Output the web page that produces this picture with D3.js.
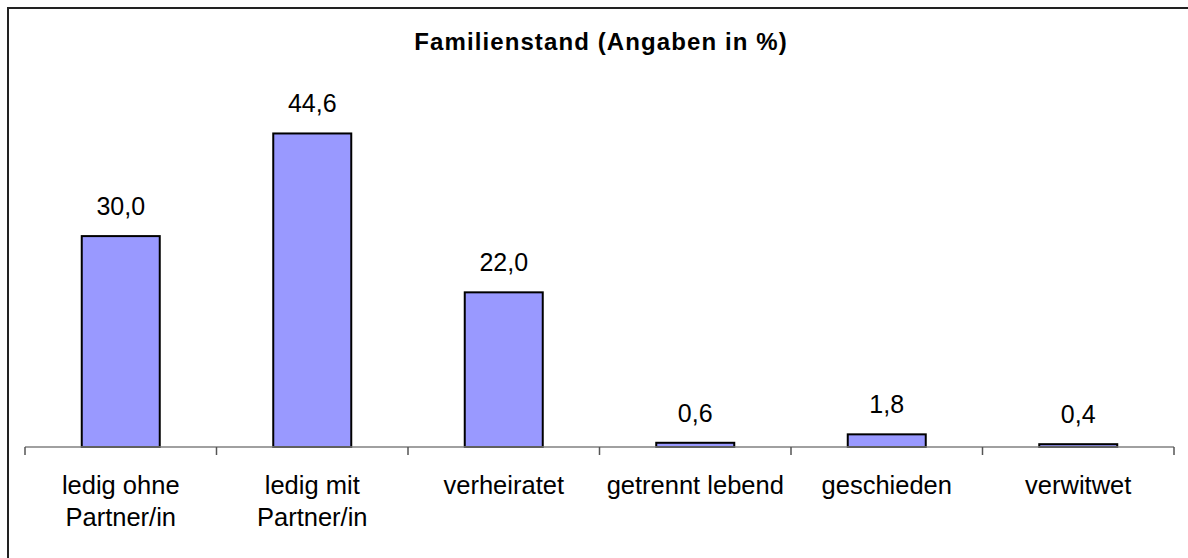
<!DOCTYPE html>
<html>
<head>
<meta charset="utf-8">
<script src="https://cdn.jsdelivr.net/npm/d3@7"></script>
<style>
	body { margin: 0; background: #fff; }
	svg { display: block; font-family: Arial, "Liberation Sans", sans-serif; }
</style>
</head>
<body>
<div id="chart"></div>
<script>
// data
var categories = [["ledig ohne", "Partner/in"], ["ledig mit", "Partner/in"], ["verheiratet"], ["getrennt lebend"], ["geschieden"], ["verwitwet"]];
var values = [30.0, 44.6, 22.0, 0.6, 1.8, 0.4];
var title = "Familienstand (Angaben in %)";

var width = 1188, height = 558;
var axisY = 447;

var svg = d3.select("#chart").append("svg")
	.attr("width", width)
	.attr("height", height);

// outer frame (cut off at right and bottom like the original)
svg.append("rect")
	.attr("x", 8).attr("y", 8)
	.attr("width", 1200).attr("height", 600)
	.style("fill", "none")
	.style("stroke", "#222")
	.style("stroke-width", 2);

// scales
var x = d3.scaleBand()
	.domain(d3.range(values.length))
	.range([25, 1174])
	.paddingInner(0)
	.paddingOuter(0);

var y = d3.scaleLinear()
	.domain([0, 50])
	.range([axisY, axisY - 351.5]);

var barW = 78;

// title
svg.append("text")
	.attr("x", 601).attr("y", 50)
	.attr("text-anchor", "middle")
	.style("font-weight", "bold")
	.style("font-size", "24px")
	.style("letter-spacing", "1.1px")
	.text(title);

// bars
svg.selectAll(".bar")
	.data(values)
	.enter().append("rect")
	.attr("class", "bar")
	.attr("x", function(d, i) { return x(i) + x.bandwidth() / 2 - barW / 2; })
	.attr("y", function(d) { return y(d); })
	.attr("width", barW)
	.attr("height", function(d) { return axisY - y(d); })
	.style("fill", "#9999ff")
	.style("stroke", "#000")
	.style("stroke-width", 2);

// value labels
svg.selectAll(".val")
	.data(values)
	.enter().append("text")
	.attr("class", "val")
	.attr("x", function(d, i) { return x(i) + x.bandwidth() / 2; })
	.attr("y", function(d) { return y(d) - 21; })
	.attr("text-anchor", "middle")
	.style("font-size", "25px")
	.text(function(d) { return d.toFixed(1).replace(".", ","); });

// x axis
var axis = svg.append("g")
	.attr("transform", "translate(0," + axisY + ")");

axis.append("line")
	.attr("x1", x.range()[0]).attr("x2", x.range()[1])
	.style("stroke", "#808080")
	.style("stroke-width", 1.5);

var ticks = d3.range(values.length + 1).map(function(i) { return x.range()[0] + i * x.bandwidth(); });
axis.selectAll(".tick")
	.data(ticks)
	.enter().append("line")
	.attr("x1", function(d) { return d; })
	.attr("x2", function(d) { return d; })
	.attr("y1", 0).attr("y2", 8)
	.style("stroke", "#555")
	.style("stroke-width", 1.5);

// category labels
var labels = svg.selectAll(".cat")
	.data(categories)
	.enter().append("text")
	.attr("class", "cat")
	.attr("text-anchor", "middle")
	.style("font-size", "25.5px");

labels.selectAll("tspan")
	.data(function(d, i) { return d.map(function(t) { return { t: t, i: i }; }); })
	.enter().append("tspan")
	.attr("x", function(d) { return x(d.i) + x.bandwidth() / 2; })
	.attr("y", function(d, j) { return 494 + j * 32; })
	.text(function(d) { return d.t; });
</script>
</body>
</html>
